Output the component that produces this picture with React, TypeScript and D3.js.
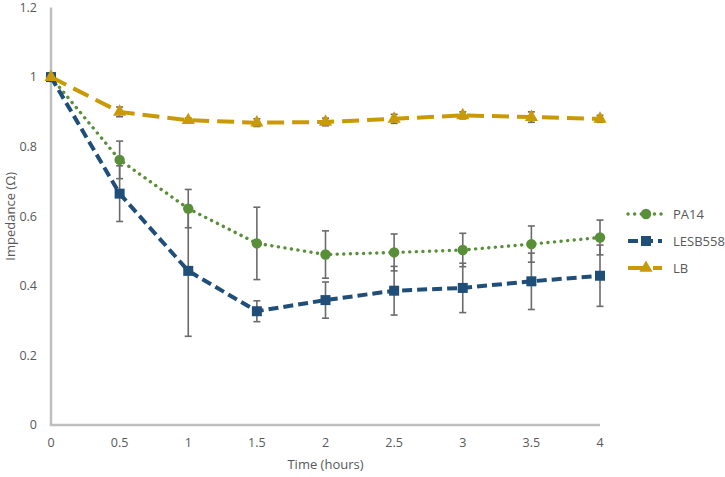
import React from 'react';
import * as d3 from 'd3';

const times = [0, 0.5, 1, 1.5, 2, 2.5, 3, 3.5, 4];
const pa14 = [1, 0.762, 0.622, 0.522, 0.49, 0.496, 0.503, 0.52, 0.539];
const pa14Err = [0, 0.054, 0.055, 0.104, 0.068, 0.053, 0.048, 0.052, 0.05];
const lesb = [1, 0.665, 0.443, 0.327, 0.359, 0.386, 0.394, 0.413, 0.429];
const lesbErr = [0, 0.08, 0.188, 0.03, 0.052, 0.07, 0.071, 0.081, 0.088];
const lb = [1, 0.9, 0.876, 0.869, 0.871, 0.88, 0.89, 0.885, 0.88];
const lbErr = [0, 0.014, 0.006, 0.011, 0.011, 0.013, 0.01, 0.015, 0.01];
const xTicks = [0, 0.5, 1, 1.5, 2, 2.5, 3, 3.5, 4];
const yTicks = [0, 0.2, 0.4, 0.6, 0.8, 1, 1.2];
const seriesNames = ['PA14', 'LESB558', 'LB'];

const W = 725, H = 477;
const x = d3.scaleLinear().domain([0, 4]).range([51, 600]);
const y = d3.scaleLinear().domain([0, 1.2]).range([425, 7.5]);

const FONT = '"Open Sans", "Noto Sans", sans-serif';
const TXT = '#595959';

type S = { name: string; vals: number[]; err: number[]; color: string; dash: string; width: number; cap: string; marker: 'circle' | 'square' | 'triangle' };

const series: S[] = [
  { name: seriesNames[0], vals: pa14, err: pa14Err, color: '#5A8F3A', dash: '0.1 6.5', width: 3.4, cap: 'round', marker: 'circle' },
  { name: seriesNames[1], vals: lesb, err: lesbErr, color: '#1F4E79', dash: '10 5', width: 4, cap: 'butt', marker: 'square' },
  { name: seriesNames[2], vals: lb, err: lbErr, color: '#C99A06', dash: '17 8', width: 4, cap: 'butt', marker: 'triangle' },
];

function Marker({ type, cx, cy, color }: { type: string; cx: number; cy: number; color: string }) {
  if (type === 'circle') return <circle cx={cx} cy={cy} r={5.2} fill={color} />;
  if (type === 'square') return <rect x={cx - 5} y={cy - 5} width={10} height={10} fill={color} />;
  const p = d3.symbol().type(d3.symbolTriangle).size(75)();
  return <path d={p || ''} transform={`translate(${cx},${cy})`} fill={color} />;
}

export default function App() {
  const line = d3.line<number>().x((_, i) => x(times[i])).y((v) => y(v));
  const legendY = [214, 241, 268];
  return (
    <svg width={W} height={H} style={{ position: 'absolute', left: 0, top: 0, background: '#fff' }}>
      {/* axes */}
      <line x1={x(0)} x2={x(0)} y1={y(1.2)} y2={y(0)} stroke="#BFBFBF" strokeWidth={2.5} />
      <line x1={x(0) - 1.25} x2={x(4)} y1={y(0)} y2={y(0)} stroke="#BFBFBF" strokeWidth={2.5} />
      {yTicks.map((t) => (
        <text key={t} x={37} y={y(t)} dy="0.35em" textAnchor="end" fontFamily={FONT} fontSize={12.5} fill={TXT}>{String(t)}</text>
      ))}
      {xTicks.map((t) => (
        <text key={t} x={x(t)} y={443} dy="0.35em" textAnchor="middle" fontFamily={FONT} fontSize={12.5} fill={TXT}>{String(t)}</text>
      ))}
      <text x={x(2)} y={464} dy="0.35em" textAnchor="middle" fontFamily={FONT} fontSize={13} fill={TXT}>Time (hours)</text>
      <text transform={`translate(10,${y(0.6)}) rotate(-90)`} dy="0.35em" textAnchor="middle" fontFamily={FONT} fontSize={13} fill={TXT}>Impedance (Ω)</text>

      {/* lines */}
      {series.map((s) => (
        <path key={s.name} d={line(s.vals) || ''} fill="none" stroke={s.color} strokeWidth={s.width} strokeDasharray={s.dash} strokeLinecap={s.cap as any} />
      ))}
      {/* error bars */}
      {series.map((s) => (
        <g key={s.name + 'e'} stroke="#6B6B6B" strokeWidth={1.6}>
          {s.vals.map((v, i) => s.err[i] > 0 ? (
            <g key={i}>
              <line x1={x(times[i])} x2={x(times[i])} y1={y(v + s.err[i])} y2={y(v - s.err[i])} />
              <line x1={x(times[i]) - 3.5} x2={x(times[i]) + 3.5} y1={y(v + s.err[i])} y2={y(v + s.err[i])} />
              <line x1={x(times[i]) - 3.5} x2={x(times[i]) + 3.5} y1={y(v - s.err[i])} y2={y(v - s.err[i])} />
            </g>
          ) : null)}
        </g>
      ))}
      {/* markers */}
      {series.map((s) => (
        <g key={s.name + 'm'}>
          {s.vals.map((v, i) => <Marker key={i} type={s.marker} cx={x(times[i])} cy={y(v)} color={s.color} />)}
        </g>
      ))}
      {/* legend */}
      {series.map((s, k) => (
        <g key={s.name + 'l'}>
          <line x1={628} x2={662} y1={legendY[k]} y2={legendY[k]} stroke={s.color} strokeWidth={s.width} strokeDasharray={s.dash} strokeLinecap={s.cap as any} />
          <Marker type={s.marker} cx={646} cy={legendY[k]} color={s.color} />
          <text x={673} y={legendY[k]} dy="0.35em" fontFamily={FONT} fontSize={13} fill={TXT}>{s.name}</text>
        </g>
      ))}
    </svg>
  );
}
